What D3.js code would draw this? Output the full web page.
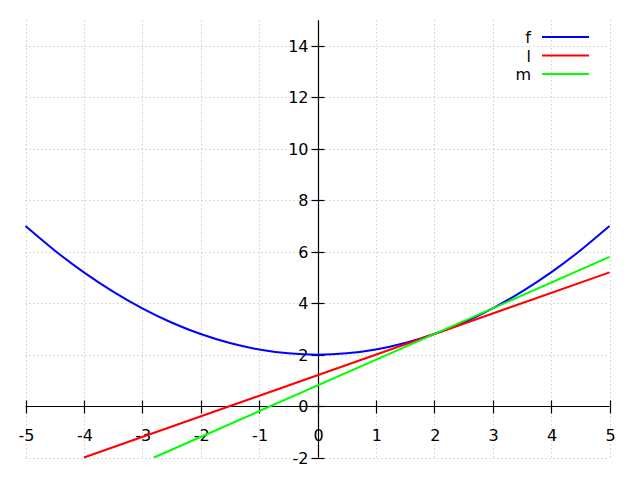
<!DOCTYPE html>
<html>
<head>
<meta charset="utf-8">
<script src="https://cdn.jsdelivr.net/npm/d3@7"></script>
<style>
  body { margin: 0; background: #fff; }
  text { font-family: "DejaVu Sans", sans-serif; font-size: 16px; fill: #000; }
</style>
</head>
<body>
<div id="chart"></div>
<script>
// values
let xTicks = [-5, -4, -3, -2, -1, 0, 1, 2, 3, 4, 5];
let yTicks = [-2, 0, 2, 4, 6, 8, 10, 12, 14];

let fX = [-5, -4.5, -4, -3.5, -3, -2.5, -2, -1.5, -1, -0.5, 0, 0.5, 1, 1.5, 2, 2.5, 3, 3.5, 4, 4.5, 5];
let fY = [7, 6.05, 5.2, 4.45, 3.8, 3.25, 2.8, 2.45, 2.2, 2.05, 2, 2.05, 2.2, 2.45, 2.8, 3.25, 3.8, 4.45, 5.2, 6.05, 7];

let lX = [-4, 5];
let lY = [-2, 5.2];

let mX = [-2.8, 5];
let mY = [-2, 5.8];

let seriesNames = ["f", "l", "m"];
let seriesColors = ["#0000ff", "#ff0000", "#00ff00"];

let width = 640, height = 480;

let svg = d3.select("#chart").append("svg")
    .attr("width", width)
    .attr("height", height);

let x = d3.scaleLinear().domain([-5, 5]).range([25.5, 609.5]);
let y = d3.scaleLinear().domain([-2, 15]).range([457.5, 20.3]);

// grid
let grid = svg.append("g")
    .attr("stroke", "#b8b8b8")
    .attr("stroke-width", 1)
    .attr("stroke-dasharray", "1,3");
grid.selectAll(".gx").data(xTicks).enter().append("line")
    .attr("x1", d => Math.round(x(d)) + 0.5).attr("x2", d => Math.round(x(d)) + 0.5)
    .attr("y1", y(15)).attr("y2", y(-2));
grid.selectAll(".gy").data(yTicks).enter().append("line")
    .attr("x1", x(-5)).attr("x2", x(5))
    .attr("y1", d => Math.round(y(d)) + 0.5).attr("y2", d => Math.round(y(d)) + 0.5);

// axes through zero
let axes = svg.append("g").attr("stroke", "#000").attr("stroke-width", 1.2);
let x0 = Math.round(x(0)) + 0.5, y0 = Math.round(y(0)) + 0.5;
axes.append("line").attr("x1", x(-5)).attr("x2", x(5)).attr("y1", y0).attr("y2", y0);
axes.append("line").attr("x1", x0).attr("x2", x0).attr("y1", y(15)).attr("y2", y(-2));

axes.selectAll(".tx").data(xTicks).enter().append("line")
    .attr("x1", d => Math.round(x(d)) + 0.5).attr("x2", d => Math.round(x(d)) + 0.5)
    .attr("y1", y0 - 6).attr("y2", y0 + 7);
axes.selectAll(".ty").data(yTicks).enter().append("line")
    .attr("x1", x0 - 7).attr("x2", x0 + 6)
    .attr("y1", d => Math.round(y(d)) + 0.5).attr("y2", d => Math.round(y(d)) + 0.5);

// tick labels
svg.append("g").selectAll("text").data(xTicks).enter().append("text")
    .attr("x", d => x(d) + 1)
    .attr("y", y0 + 34)
    .attr("text-anchor", "middle")
    .text(d => d);
svg.append("g").selectAll("text").data(yTicks).enter().append("text")
    .attr("x", x0 - 10)
    .attr("y", d => y(d) + 6)
    .attr("text-anchor", "end")
    .text(d => d);

// series
let line = d3.line().x(d => x(d[0])).y(d => y(d[1]));
let seriesData = [
    d3.zip(fX, fY),
    d3.zip(lX, lY),
    d3.zip(mX, mY)
];
svg.append("g").selectAll("path").data(seriesData).enter().append("path")
    .attr("fill", "none")
    .attr("stroke", (d, i) => seriesColors[i])
    .attr("stroke-width", 2)
    .attr("d", (d, i) => i === 0 ? line.curve(d3.curveNatural)(d) : line.curve(d3.curveLinear)(d));

// legend
let legend = svg.append("g").selectAll("g").data(seriesNames).enter().append("g")
    .attr("transform", (d, i) => `translate(0, ${37 + i * 18.5})`);
legend.append("text")
    .attr("x", 531)
    .attr("y", 6)
    .attr("text-anchor", "end")
    .text(d => d);
legend.append("line")
    .attr("x1", 542).attr("x2", 589)
    .attr("y1", 0).attr("y2", 0)
    .attr("stroke", (d, i) => seriesColors[i])
    .attr("stroke-width", 2);
</script>
</body>
</html>
